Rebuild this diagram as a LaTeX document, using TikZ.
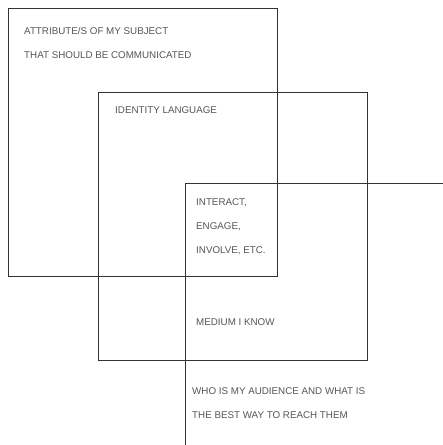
\documentclass[tikz,border=0pt]{standalone}
\usepackage{fontspec}
\setmainfont{Liberation Sans}
\usetikzlibrary{positioning}
\definecolor{inkgray}{HTML}{555555}

\begin{document}
\begin{tikzpicture}[
      x=1pt, y=-1pt,
      square/.style={
        draw=black!80,
        line width=0.8pt,
        rectangle,
        minimum width=269pt,
        minimum height=268pt,
        inner sep=0pt,
        anchor=north west
      },
      tag/.style={
        inner sep=0pt,
        anchor=base west,
        align=left,
        text=inkgray,
        font=\fontsize{9.8}{24}\selectfont
      }
    ]
    \useasboundingbox (0,0) rectangle (443,445);
    \clip (0,0) rectangle (443,445);

    % Squares
    \node[square] (sq1) at (8,8) {};
    \node[square] (sq2) at (98,92) {};
    \node[square] (sq3) at (185,183) {};

    % Labels (base = last line)
    \node[tag] (attr) at ([shift={(16,50)}]sq1.north west)
      {ATTRIBUTE/S OF MY SUBJECT\\THAT SHOULD BE COMMUNICATED};
    \node[tag] (ident) at ([shift={(17,21)}]sq2.north west)
      {IDENTITY LANGUAGE};
    \node[tag] (inter) at ([shift={(11,70)}]sq3.north west)
      {INTERACT,\\ENGAGE,\\INVOLVE, ETC.};
    \node[tag] (medium) at ([shift={(11,142)}]sq3.north west)
      {MEDIUM I KNOW};
    \node[tag] (who) at ([shift={(7,235)}]sq3.north west)
      {WHO IS MY AUDIENCE AND WHAT IS\\THE BEST WAY TO REACH THEM};
  \end{tikzpicture}
\end{document}
